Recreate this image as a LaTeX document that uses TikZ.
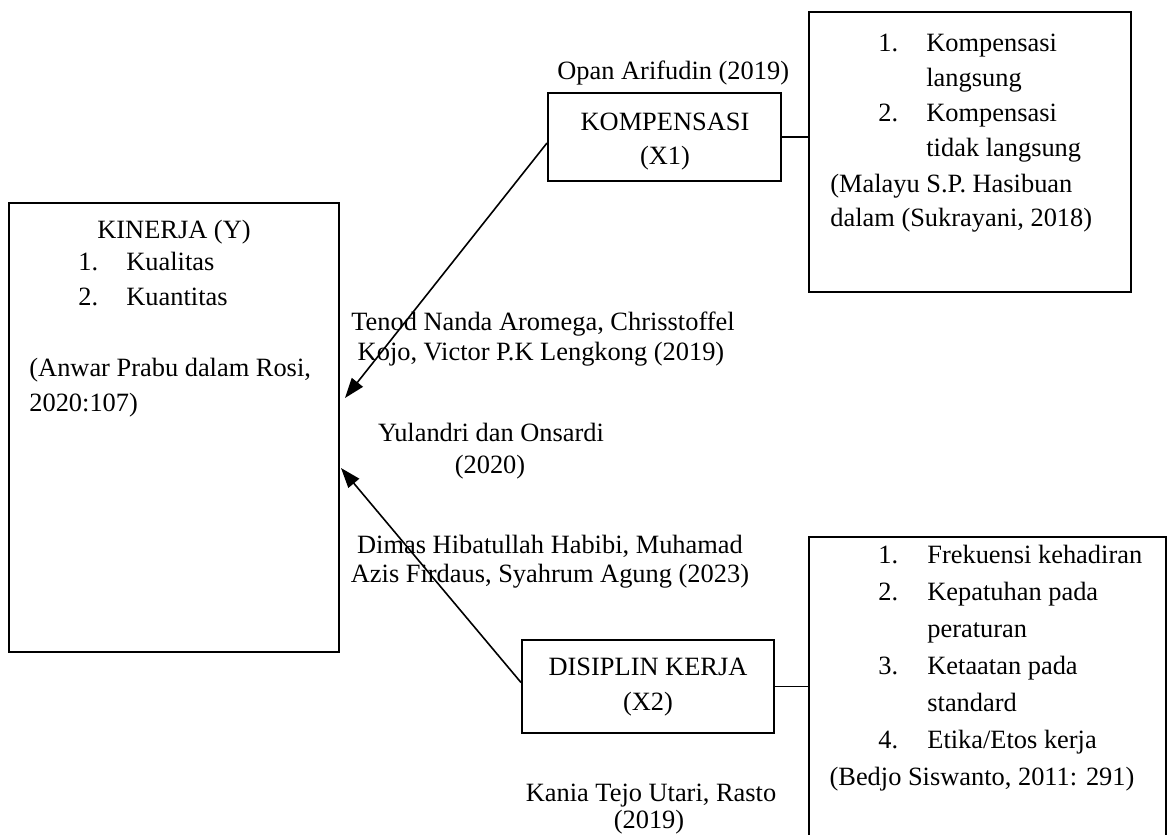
\documentclass[tikz,border=0pt]{standalone}
\usepackage{fontspec}
\setmainfont{Liberation Serif}
\usetikzlibrary{arrows.meta,fit}
\begin{document}
\begin{tikzpicture}[x=0.5pt,y=-0.5pt,
  box/.style={draw, line width=1pt, inner sep=0pt},
  txt/.style={anchor=base, inner sep=0pt, font=\fontsize{13.2}{16}\selectfont},
  txtl/.style={txt, anchor=base west},
  link/.style={line width=0.8pt},
  arr/.style={line width=0.8pt, -{Triangle[length=10pt,width=7pt]}}]
\path[use as bounding box, clip] (0,0) rectangle (1169,835);
\fill[white] (0,0) rectangle (1169,835);
% boxes
\node[box, fit={(9,203)(339,652)}] (y) {};
\node[box, fit={(548,93)(781,181)}] (x1) {};
\node[box, fit={(809,12)(1131,292)}] (x1i) {};
\node[box, fit={(522,640)(774,733)}] (x2) {};
\node[box, fit={(809,537)(1166,870)}] (x2i) {};
% connectors
\draw[link] (x1.east) -- (x1.east -| x1i.west);
\draw[link] (x2.east) -- (x2.east -| x2i.west);
\coordinate (t1) at (345,398);
\coordinate (t2) at (341,468);
\draw[arr] ([yshift=-3]x1.west) -- (t1);
\draw[arr] ([yshift=2]x2.west) -- (t2);
% KINERJA
\node[txt] (ya) at (174,238) {KINERJA (Y)};
\node[txtl] (yb1) at (78,270) {1.};
\node[txtl] (yb2) at (126,270) {Kualitas};
\node[txtl] (yc1) at (78,305) {2.};
\node[txtl] (yc2) at (126,305) {Kuantitas};
\node[txtl] (yd) at (29,376) {(Anwar Prabu dalam Rosi,};
\node[txtl] (ye) at (29,411) {2020:107)};
% KOMPENSASI
\node[txt] (x1a) at (665,130) {KOMPENSASI};
\node[txt] (x1b) at (665,164) {(X1)};
\node[txtl] (opan) at (557,79) {Opan Arifudin (2019)};
% indicators X1
\node[txtl] (i1a) at (878,51) {1.};
\node[txtl] (i1b) at (926,51) {Kompensasi};
\node[txtl] (i1c) at (926,86) {langsung};
\node[txtl] (i2a) at (878,121) {2.};
\node[txtl] (i2b) at (926,121) {Kompensasi};
\node[txtl] (i2c) at (926,156) {tidak langsung};
\node[txtl] (i3) at (830,192) {(Malayu S.P. Hasibuan};
\node[txtl] (i4) at (830,226) {dalam (Sukrayani, 2018)};
% middle labels
\node[txt] (ta) at (543,330) {Tenod Nanda Aromega, Chrisstoffel};
\node[txt] (tb) at (541,360) {Kojo, Victor P.K Lengkong (2019)};
\node[txt] (ua) at (491,441) {Yulandri dan Onsardi};
\node[txt] (ub) at (490,473) {(2020)};
\node[txt] (da) at (550,553) {Dimas Hibatullah Habibi, Muhamad};
\node[txt] (db) at (550,582) {Azis Firdaus, Syahrum Agung (2023)};
% DISIPLIN
\node[txt] (x2a) at (648,675) {DISIPLIN KERJA};
\node[txt] (x2b) at (648,710) {(X2)};
\node[txt] (ka) at (651,801) {Kania Tejo Utari, Rasto};
\node[txt] (kb) at (649,828) {(2019)};
% indicators X2
\node[txtl] (j1a) at (878,563) {1.};
\node[txtl] (j1b) at (927,563) {Frekuensi kehadiran};
\node[txtl] (j2a) at (878,600) {2.};
\node[txtl] (j2b) at (927,600) {Kepatuhan pada};
\node[txtl] (j2c) at (927,637) {peraturan};
\node[txtl] (j3a) at (878,674) {3.};
\node[txtl] (j3b) at (927,674) {Ketaatan pada};
\node[txtl] (j3c) at (927,711) {standard};
\node[txtl] (j4a) at (878,748) {4.};
\node[txtl] (j4b) at (927,748) {Etika/Etos kerja};
\node[txt] (j5) at (982,785) {(Bedjo Siswanto, 2011: 291)};
\end{tikzpicture}
\end{document}
